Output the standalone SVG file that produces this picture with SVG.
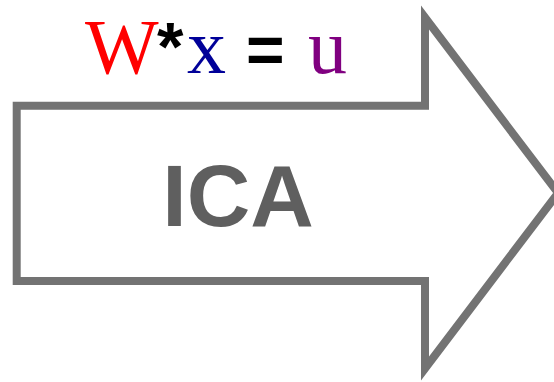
<svg xmlns="http://www.w3.org/2000/svg" width="554" height="382" viewBox="0 0 554 382">
  <style>
    .outline { fill: #ffffff; stroke: #737373; stroke-width: 8; stroke-linejoin: miter; stroke-miterlimit: 10; }
    .serif { font-family: "Liberation Serif", "Times New Roman", serif; font-size: 78px; }
    .op { font-family: "Liberation Sans", Arial, sans-serif; font-weight: bold; fill: #000000; }
    .label { font-family: "Liberation Sans", Arial, sans-serif; font-weight: bold; fill: #5f5f5f; }
  </style>
  <rect width="554" height="382" fill="#ffffff"/>
  <!-- block arrow; the tip runs past the right edge -->
  <g id="ica-arrow">
    <path class="outline" d="M16.7,105.8 L425,105.8 L425,17.5 L558,193 L425,368.5 L425,281 L16.7,281 Z"/>
    <text class="label" x="238" y="226" font-size="88" text-anchor="middle">ICA</text>
  </g>
  <!-- unmixing equation above the arrow -->
  <g id="equation">
    <text y="73"><tspan class="serif" x="85" fill="#ff0000">W</tspan><tspan class="op" x="157" y="70" font-size="68">*</tspan><tspan class="serif" x="187" y="73" fill="#000099">x</tspan><tspan class="op" x="246" font-size="66">=</tspan><tspan class="serif" x="308" fill="#800080" font-size="85">u</tspan></text>
  </g>
</svg>
